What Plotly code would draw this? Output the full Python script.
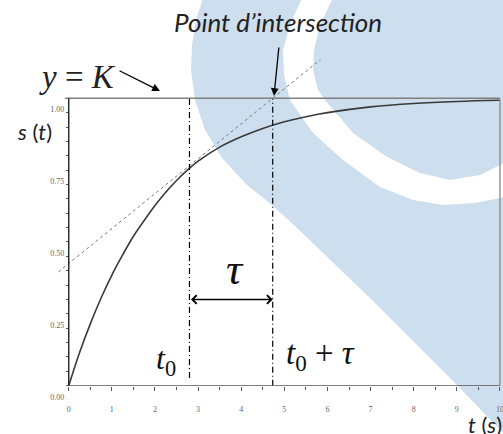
import plotly.graph_objects as go

# step response
t_vals = [0, 0.25, 0.5, 0.75, 1, 1.25, 1.5, 1.75, 2, 2.25, 2.5, 2.75, 3, 3.5, 4, 4.5,
          5, 5.5, 6, 7, 8, 9, 10]
s_vals = [0, 0.115, 0.215, 0.305, 0.385, 0.455, 0.52, 0.575, 0.627, 0.673, 0.714, 0.75,
          0.781, 0.83, 0.866, 0.895, 0.918, 0.936, 0.95, 0.97, 0.982, 0.989, 0.993]
tangent_t = [-0.24, 5.84]
tangent_s = [0.396, 1.135]
K = 1.0
T0 = 2.8
TAU = 1.93
ARROW_S = 0.30
T_MAX = 10

x_ticks = [0, 1, 2, 3, 4, 5, 6, 7, 8, 9, 10]
x_minor = [i / 2 for i in range(0, 21)]
y_ticks = [0, 0.25, 0.5, 0.75, 1.0]
y_minor = [i / 20 for i in range(0, 21)]

W, H = 503, 434
XR = [-0.3, 10.05]
YR = [0, 1.16]
XD = [55.8 / W, 502.1 / W]
YD = [1 - 385.7 / H, 1 - 52.3 / H]


def px(x):
    return x / W


def py(y):
    return 1 - y / H


def path(points):
    return "M " + " L ".join(f"{px(a):.4f},{py(b):.4f}" for a, b in points) + " Z"


blue_pts = [(203, -2), (196, 20), (192, 45), (191, 70), (195, 100), (205, 130), (222, 158),
            (247, 185), (272, 205), (297, 228), (372, 300), (457, 385), (506, 436),
            (506, -2)]
band_outer = [(302, -2), (290, 25), (283, 50), (284, 75), (290, 100), (313, 133), (343, 160),
              (380, 187), (413, 200), (443, 205), (475, 203), (506, 197)]
band_inner = [(333, -2), (320, 25), (314, 50), (313, 70), (318, 90), (325, 100), (353, 133),
              (387, 157), (420, 173), (450, 180), (480, 175), (506, 162)]
band_pts = band_outer + band_inner[::-1]

fig = go.Figure()

fig.add_trace(go.Scatter(x=tangent_t, y=tangent_s, mode="lines",
                         line=dict(color="#777", width=1, dash="dot")))
fig.add_trace(go.Scatter(x=t_vals, y=s_vals, mode="lines", line_shape="spline",
                         line=dict(color="#3a3a3a", width=1.6)))
fig.add_trace(go.Scatter(x=[T0, T0], y=[0.027, K], mode="lines",
                         line=dict(color="black", width=1.2, dash="6px,3px,1px,3px")))
fig.add_trace(go.Scatter(x=[T0 + TAU, T0 + TAU], y=[0, K], mode="lines",
                         line=dict(color="black", width=1.2, dash="6px,3px,1px,3px")))

shapes = [
    dict(type="path", path=path(blue_pts), xref="paper", yref="paper",
         fillcolor="#cddeee", line_width=0, layer="below"),
    dict(type="path", path=path(band_pts), xref="paper", yref="paper",
         fillcolor="white", line_width=0, layer="below"),
    dict(type="line", x0=-0.09, x1=T_MAX, y0=K, y1=K, line=dict(color="#808080", width=1.6)),
    dict(type="line", x0=T_MAX, x1=T_MAX, y0=0, y1=K, line=dict(color="#909090", width=1.4)),
    dict(type="line", x0=0, x1=T_MAX, y0=0, y1=0, line=dict(color="#555", width=1.2)),
    dict(type="line", x0=0, x1=0, y0=0, y1=K, line=dict(color="#222", width=1.4)),
]

serif = "Liberation Serif"
sans = "Lato"


def label(x, y, text, family, size, color="#222"):
    return dict(x=px(x), y=py(y), xref="paper", yref="paper", showarrow=False,
                xanchor="center", yanchor="middle", text=text,
                font=dict(family=family, size=size, color=color))


ann = [
    dict(x=T0 + TAU, y=ARROW_S, ax=T0, ay=ARROW_S, xref="x", yref="y", axref="x", ayref="y",
         text="", showarrow=True, arrowhead=4, startarrowhead=4, arrowside="end+start",
         arrowsize=1.3, startarrowsize=1.3, arrowwidth=1.3, arrowcolor="black"),
    dict(x=px(274), y=py(96), xref="paper", yref="paper", ax=5, ay=-50, text="",
         showarrow=True, arrowhead=2, arrowsize=1.2, arrowwidth=1.3, arrowcolor="black"),
    dict(x=px(160), y=py(91), xref="paper", yref="paper", ax=-42, ay=-21, text="",
         showarrow=True, arrowhead=2, arrowsize=1.2, arrowwidth=1.3, arrowcolor="black"),
    label(278, 22, "<i>Point d’intersection</i>", sans, 26),
    label(77, 77, "<i>y</i> = <i>K</i>", serif, 33),
    label(34, 131, "<i>s</i> (<i>t</i>)", sans, 22),
    label(485, 424, "<i>t</i> (<i>s</i>)", sans, 22),
    label(235, 269, "<i>τ</i>", serif, 45, "#111"),
    label(166, 360, "<i>t</i><sub>0</sub>", serif, 32, "#111"),
    label(320, 355, "<i>t</i><sub>0</sub> + <i>τ</i>", serif, 33, "#111"),
]

ypos = XD[0] + (0 - XR[0]) / (XR[1] - XR[0]) * (XD[1] - XD[0])

fig.update_layout(
    width=W, height=H, margin=dict(l=0, r=0, t=0, b=0, autoexpand=False),
    paper_bgcolor="white", plot_bgcolor="rgba(0,0,0,0)",
    showlegend=False, shapes=shapes, annotations=ann,
    xaxis=dict(range=XR, domain=XD, showgrid=False, zeroline=False, showline=False,
               automargin=False,
               tickvals=x_ticks, ticks="outside", ticklen=4, tickcolor="#555",
               ticklabelstandoff=12, ticklabeloverflow="allow",
               tickfont=dict(family=serif, size=8, color="#666"),
               minor=dict(tickvals=x_minor, ticks="outside", ticklen=3, tickcolor="#555")),
    yaxis=dict(range=YR, domain=YD, anchor="free", position=ypos, showgrid=False,
               zeroline=False, showline=False, automargin=False,
               tickvals=y_ticks, tickformat=".2f",
               ticks="outside", ticklen=3, tickcolor="#555", ticklabelshift=11,
               tickfont=dict(family=serif, size=8, color="#666"),
               minor=dict(tickvals=y_minor, ticks="outside", ticklen=3, tickcolor="#555")),
)

fig.write_html("out.html", config={"displayModeBar": False},
               post_script="document.body.style.margin='0';")
